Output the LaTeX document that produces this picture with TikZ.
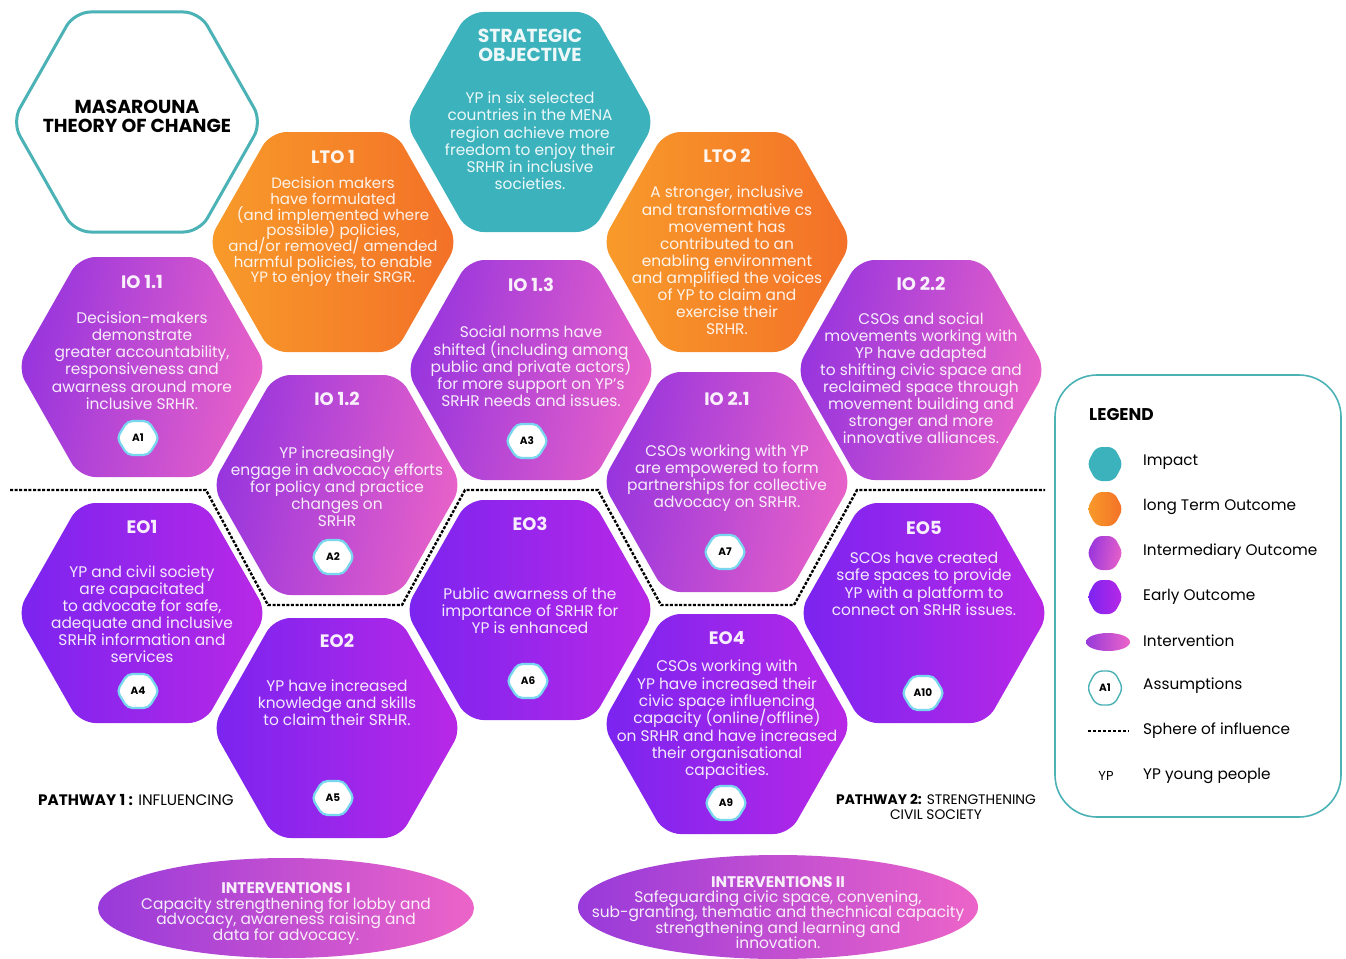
\documentclass[tikz,border=0pt]{standalone}
\usepackage{fontspec}
\setmainfont{Poppins}
\usetikzlibrary{shapes.geometric}

\definecolor{tealhex}{RGB}{60,178,188}
\definecolor{tealline}{RGB}{75,178,182}
\definecolor{orL}{RGB}{248,155,42}
\definecolor{orR}{RGB}{243,112,40}
\definecolor{ioL}{RGB}{150,52,222}
\definecolor{ioR}{RGB}{232,98,200}
\definecolor{eoL}{RGB}{122,36,240}
\definecolor{eoR}{RGB}{185,40,230}
\definecolor{inL}{RGB}{152,58,218}
\definecolor{inR}{RGB}{236,100,200}
\definecolor{acyan}{RGB}{120,215,238}

% large outcome hexagon centred at (#2,#3)
\newcommand\bighex[3]{\path[#1,shift={(#2,#3)},rounded corners=16pt]
  (-125,0) -- (-62.5,-110) -- (62.5,-110) -- (125,0) -- (62.5,110) -- (-62.5,110) -- cycle;}
% small assumption hexagon with its label
\newcommand\ahex[4]{\path[fill=white,draw=acyan,line width=2.2pt,shift={(#1,#2)},rounded corners=5pt]
  (-21,0) -- (-10.5,-17) -- (10.5,-17) -- (21,0) -- (10.5,17) -- (-10.5,17) -- cycle;
  \node[atext] (#3) at (#1,#2) {#4};}
% legend swatch hexagon
\newcommand\lhex[3]{\path[#1,shift={(#2,#3)},rounded corners=6pt]
  (-18,0) -- (-9,-17) -- (9,-17) -- (18,0) -- (9,17) -- (-9,17) -- cycle;}

\begin{document}
% keep the tight line spacing of the hexagon texts exact
\lineskiplimit=-20pt
\begin{tikzpicture}[x=1pt,y=-1pt,
  htitle/.style={text=white,text opacity=0.92,font=\fontsize{18}{19.5}\selectfont\bfseries,inner sep=0,align=center},
  hbody/.style={text=white,text opacity=0.9,align=center,inner sep=0,font=\fontsize{15.4}{17.2}\selectfont},
  atext/.style={font=\fontsize{10.5}{11}\selectfont\bfseries,inner sep=0,text=black},
  ltext/.style={anchor=west,inner sep=0,font=\fontsize{15.3}{17}\selectfont,text=black},
  sphere/.style={draw=black,line width=2.4pt,dash pattern=on 3pt off 1.6pt},
  ioshade/.style={left color=ioL,right color=ioR,shading angle=80},
  eoshade/.style={left color=eoL,right color=eoR},
  orshade/.style={left color=orL,right color=orR},
]
\useasboundingbox (0,0) rectangle (1346,958);
\fill[white] (0,0) rectangle (1346,958);

% ---------- hexagon grid ----------
\bighex{draw=tealline,line width=3pt,fill=white}{137}{122}
\bighex{fill=tealhex}{530}{122}
\bighex{orshade}{333}{242}
\bighex{orshade}{727}{242}
\bighex{ioshade}{142}{367}
\bighex{ioshade}{337}{485}
\bighex{ioshade}{531}{370}
\bighex{ioshade}{727}{482}
\bighex{ioshade}{921}{370}
\bighex{eoshade}{142}{613}
\bighex{eoshade}{337}{728}
\bighex{eoshade}{530}{610}
\bighex{eoshade}{727}{724}
\bighex{eoshade}{924}{613}

% ---------- sphere of influence ----------
\draw[sphere] (10,490) -- (206,490) -- (268,605) -- (402,605) -- (465,490)
  -- (598,490) -- (661,605) -- (794,605) -- (857,490) -- (1045,490);

% ---------- texts ----------
\node[font=\fontsize{18.8}{19}\selectfont\bfseries,align=center,inner sep=0] (title) at (137,116.5) {MASAROUNA\\THEORY OF CHANGE};

\node[htitle,font=\fontsize{18.8}{19}\selectfont\bfseries] (so) at (530,45.5) {STRATEGIC\\OBJECTIVE};
\node[hbody] (sob) at (530,141) {YP in six selected\\countries in the MENA\\region achieve more\\freedom to enjoy their\\SRHR in inclusive\\societies.};

\node[htitle] (lto1) at (333,157) {LTO 1};
\node[hbody,font=\fontsize{15}{15.7}\selectfont] (lto1b) at (333,232) {Decision makers\\have formulated\\(and implemented where\\possible) policies,\\and/or removed/ amended\\harmful policies, to enable\\YP to enjoy their SRGR.};

\node[htitle] (lto2) at (727,156) {LTO 2};
\node[hbody,font=\fontsize{15.4}{17.1}\selectfont] (lto2b) at (727,260.5) {A stronger, inclusive\\and transformative cs\\movement has\\contributed to an\\enabling environment\\and amplified the voices\\of YP to claim and\\exercise their\\SRHR.};

\node[htitle] (io11) at (142,282) {IO 1.1};
\node[hbody] (io11b) at (142,360.5) {Decision-makers\\demonstrate\\greater accountability,\\responsiveness and\\awarness around more\\inclusive SRHR.};

\node[htitle] (io12) at (337,399) {IO 1.2};
\node[hbody,font=\fontsize{15.4}{17}\selectfont] (io12b) at (337,487) {YP increasingly\\engage in advocacy efforts\\for policy and practice\\changes on\\SRHR};

\node[htitle] (io13) at (531,285) {IO 1.3};
\node[hbody] (io13b) at (531,366.5) {Social norms have\\shifted (including among\\public and private actors)\\for more support on YP's\\SRHR needs and issues.};

\node[htitle] (io21) at (727,399) {IO 2.1};
\node[hbody] (io21b) at (727,478) {CSOs working with YP\\are empowered to form\\partnerships for collective\\advocacy on SRHR.};

\node[htitle] (io22) at (921,284) {IO 2.2};
\node[hbody,font=\fontsize{15.4}{17}\selectfont] (io22b) at (921,378.5) {CSOs and social\\movements working with\\YP have adapted\\to shifting civic space and\\reclaimed space through\\movement building and\\stronger and more\\innovative alliances.};

\node[htitle] (eo1) at (142,527) {EO1};
\node[hbody,font=\fontsize{15.4}{17}\selectfont] (eo1b) at (142,614.5) {YP and civil society\\are capacitated\\to advocate for safe,\\adequate and inclusive\\SRHR information and\\services};

\node[htitle] (eo2) at (337,641) {EO2};
\node[hbody,font=\fontsize{15.4}{17}\selectfont] (eo2b) at (337,703) {YP have increased\\knowledge and skills\\to claim their SRHR.};

\node[htitle] (eo3) at (530,524) {EO3};
\node[hbody,font=\fontsize{15.4}{17}\selectfont] (eo3b) at (530,611) {Public awarness of the\\importance of SRHR for\\YP is enhanced};

\node[htitle] (eo4) at (727,638) {EO4};
\node[hbody,font=\fontsize{15.4}{17.3}\selectfont] (eo4b) at (727,720) {CSOs working with\\YP have increased their\\civic space influencing\\capacity (online/offline)\\on SRHR and have increased\\their organisational\\capacities.};

\node[htitle] (eo5) at (924,528) {EO5};
\node[hbody,font=\fontsize{15.4}{17.3}\selectfont] (eo5b) at (924,584) {SCOs have created\\safe spaces to provide\\YP with a platform to\\connect on SRHR issues.};

% ---------- assumptions ----------
\ahex{138}{438}{a1}{A1}
\ahex{333}{557}{a2}{A2}
\ahex{527}{441}{a3}{A3}
\ahex{138}{691}{a4}{A4}
\ahex{333}{798}{a5}{A5}
\ahex{528}{681}{a6}{A6}
\ahex{725}{552}{a7}{A7}
\ahex{726}{803}{a9}{A9}
\ahex{923}{693}{a10}{A10}

% ---------- pathways ----------
\node[anchor=west,inner sep=0,font=\fontsize{15.2}{16}\selectfont] (p1) at (38,800) {\textbf{PATHWAY 1 :} INFLUENCING};
\node[align=center,inner sep=0,font=\fontsize{13.8}{14.5}\selectfont] (p2) at (936,807) {\textbf{PATHWAY 2:} STRENGTHENING\\CIVIL SOCIETY};

% ---------- interventions ----------
\path[left color=inL,right color=inR] (286,908) ellipse [x radius=188,y radius=50];
\node[hbody,font=\fontsize{15.4}{15.7}\selectfont] (int1) at (286,913.5) {\textbf{INTERVENTIONS I}\\Capacity strengthening for lobby and\\advocacy, awareness raising and\\data for advocacy.};
\path[left color=inL,right color=inR] (778,907) ellipse [x radius=200,y radius=52];
\node[hbody,font=\fontsize{15.4}{15.25}\selectfont] (int2) at (778,912.5) {\textbf{INTERVENTIONS II}\\Safeguarding civic space, convening,\\sub-granting, thematic and thechnical capacity\\strengthening and learning and\\innovation.};

% ---------- legend ----------
\draw[tealline,line width=1.6pt,rounded corners=42pt] (1055,375) rectangle (1341,817);
\node[anchor=west,inner sep=0,font=\fontsize{17}{18}\selectfont\bfseries] (leg) at (1089,415) {LEGEND};
\lhex{fill=tealhex}{1105}{464}
\lhex{orshade}{1105}{509}
\lhex{ioshade}{1105}{553}
\lhex{eoshade}{1105}{597}
\path[left color=inL,right color=inR] (1108,642) ellipse [x radius=22,y radius=9];
\lhex{fill=white,draw=tealline,line width=1.4pt}{1105}{688}
\node[atext] (la) at (1105,688) {A1};
\draw[black,line width=1.6pt,dash pattern=on 3pt off 2pt] (1088,731) -- (1129,731);
\node[inner sep=0,font=\fontsize{13}{14}\selectfont] (lyp) at (1106,776) {YP};
\node[ltext] (l1) at (1143,462) {Impact};
\node[ltext] (l2) at (1143,507) {long Term Outcome};
\node[ltext] (l3) at (1143,552) {Intermediary Outcome};
\node[ltext] (l4) at (1143,597) {Early Outcome};
\node[ltext] (l5) at (1143,641) {Intervention};
\node[ltext] (l6) at (1143,686) {Assumptions};
\node[ltext] (l7) at (1143,731) {Sphere of influence};
\node[ltext] (l8) at (1143,776) {YP young people};
\end{tikzpicture}
\end{document}
